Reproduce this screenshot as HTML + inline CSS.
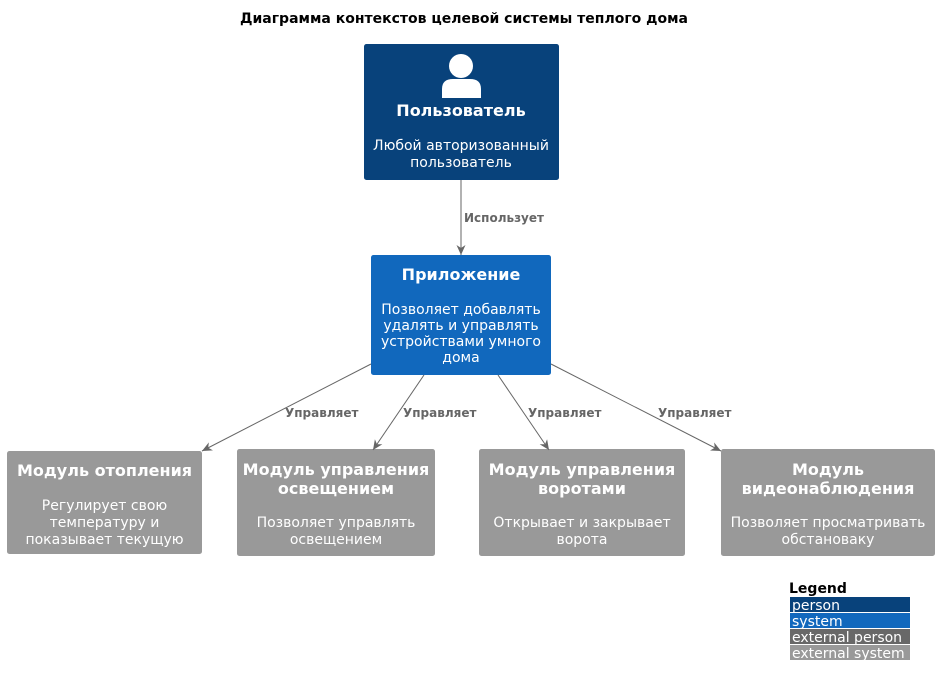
<!DOCTYPE html>
<html><head><meta charset="utf-8"><style>
html,body{margin:0;padding:0;background:#fff;}
svg{display:block;}
text{font-family:"DejaVu Sans","Liberation Sans",sans-serif;}
.t{font-weight:bold;font-size:16px;fill:#fff;text-anchor:middle;}
.d{font-size:14px;fill:#fff;text-anchor:middle;}
.l{font-weight:bold;font-size:12px;fill:#666;}
.ln{stroke:#666;stroke-width:1;fill:none;marker-end:url(#ah);}
</style></head><body>
<svg width="940" height="687" viewBox="0 0 940 687">
<defs>
<marker id="ah" markerUnits="userSpaceOnUse" markerWidth="12" markerHeight="10" refX="10" refY="4.5" orient="auto">
<path d="M0,0 L10,4.5 L0,9 L3,4.5 Z" fill="#666"/>
</marker>
</defs>
<text x="464" y="23" font-size="14" font-weight="bold" text-anchor="middle" fill="#000">Диаграмма контекстов целевой системы теплого дома</text>

<!-- person -->
<rect x="364" y="44" width="195" height="136" rx="2.5" fill="#08427B"/>
<circle cx="461" cy="66" r="12" fill="#fff"/>
<path d="M442 98 L442 89 Q442 79 453 79 L470 79 Q481 79 481 89 L481 98 Z" fill="#fff"/>
<text class="t" x="461" y="116">Пользователь</text>
<text class="d" x="461" y="150">Любой авторизованный</text>
<text class="d" x="461" y="167">пользователь</text>

<!-- app -->
<rect x="371" y="255" width="180" height="120" rx="2.5" fill="#1168BD"/>
<text class="t" x="461" y="280">Приложение</text>
<text class="d" x="461" y="314">Позволяет добавлять</text>
<text class="d" x="461" y="330">удалять и управлять</text>
<text class="d" x="461" y="346">устройствами умного</text>
<text class="d" x="461" y="362">дома</text>

<!-- modules -->
<rect x="7" y="451" width="195" height="103" rx="2.5" fill="#999999"/>
<text class="t" x="104.5" y="476">Модуль отопления</text>
<text class="d" x="104.5" y="510">Регулирует свою</text>
<text class="d" x="104.5" y="527">температуру и</text>
<text class="d" x="104.5" y="544">показывает текущую</text>

<rect x="237" y="449" width="198" height="107" rx="2.5" fill="#999999"/>
<text class="t" x="336" y="475">Модуль управления</text>
<text class="t" x="336" y="494">освещением</text>
<text class="d" x="336" y="527">Позволяет управлять</text>
<text class="d" x="336" y="544">освещением</text>

<rect x="479" y="449" width="206" height="107" rx="2.5" fill="#999999"/>
<text class="t" x="582" y="475">Модуль управления</text>
<text class="t" x="582" y="494">воротами</text>
<text class="d" x="582" y="527">Открывает и закрывает</text>
<text class="d" x="582" y="544">ворота</text>

<rect x="721" y="449" width="214" height="107" rx="2.5" fill="#999999"/>
<text class="t" x="828" y="475">Модуль</text>
<text class="t" x="828" y="494">видеонаблюдения</text>
<text class="d" x="828" y="527">Позволяет просматривать</text>
<text class="d" x="828" y="544">обстановаку</text>

<!-- connectors -->
<line class="ln" x1="461" y1="180" x2="461" y2="255"/>
<text class="l" x="464" y="222">Использует</text>

<line class="ln" x1="371" y1="364" x2="202" y2="451"/>
<text class="l" x="285" y="417">Управляет</text>

<line class="ln" x1="424" y1="375" x2="373" y2="450"/>
<text class="l" x="403" y="417">Управляет</text>

<line class="ln" x1="498" y1="375" x2="549" y2="450"/>
<text class="l" x="528" y="417">Управляет</text>

<line class="ln" x1="551" y1="364" x2="721" y2="451"/>
<text class="l" x="658" y="417">Управляет</text>

<!-- legend -->
<text x="789" y="593" font-size="14" font-weight="bold" fill="#000">Legend</text>
<rect x="790" y="597" width="120" height="15" fill="#08427B"/>
<text x="792" y="610" font-size="14" fill="#fff">person</text>
<rect x="790" y="613" width="120" height="15" fill="#1168BD"/>
<text x="792" y="626" font-size="14" fill="#fff">system</text>
<rect x="790" y="629" width="120" height="15" fill="#686868"/>
<text x="792" y="642" font-size="14" fill="#fff">external person</text>
<rect x="790" y="645" width="120" height="15" fill="#999999"/>
<text x="792" y="658" font-size="14" fill="#fff">external system</text>
</svg>
</body></html>
